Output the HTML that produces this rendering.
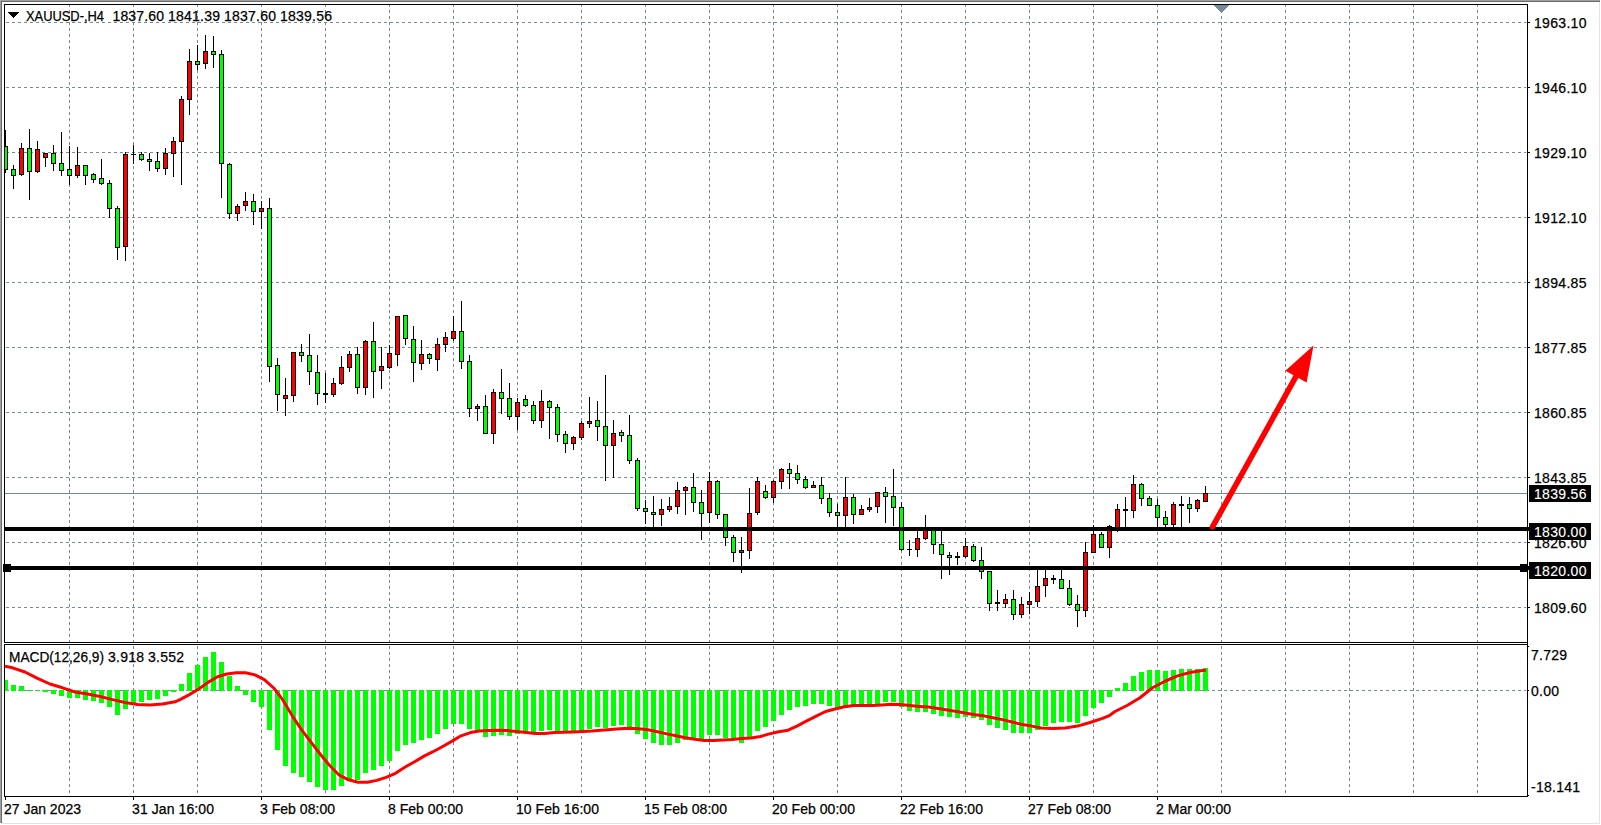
<!DOCTYPE html>
<html lang="en"><head><meta charset="utf-8"><title>XAUUSD-,H4</title>
<style>html,body{margin:0;padding:0;background:#fff;overflow:hidden}svg{display:block}text{font-family:"Liberation Sans",sans-serif;font-size:14px;fill:#000;stroke:#000;stroke-width:.25px}.w{fill:#fff;stroke:#fff;stroke-width:.12px}</style></head><body>
<svg width="1601" height="825" viewBox="0 0 1601 825">
<defs><clipPath id="cm"><rect x="5" y="5" width="1522" height="637"/></clipPath><clipPath id="ci"><rect x="5" y="645" width="1522" height="151"/></clipPath></defs>
<rect x="0" y="0" width="1601" height="825" fill="#fff"/>
<g shape-rendering="crispEdges">
<rect x="0" y="0" width="1600" height="1" fill="#a0a0a0"/>
<rect x="0" y="0" width="1" height="823" fill="#a0a0a0"/>
<rect x="1" y="1" width="1599" height="1" fill="#696969"/>
<rect x="1" y="1" width="1" height="822" fill="#696969"/>
<rect x="1599" y="2" width="1" height="822" fill="#e3e3e3"/>
<rect x="1" y="823" width="1599" height="1" fill="#e3e3e3"/>
<g stroke="#778899" stroke-width="1" stroke-dasharray="3 3" fill="none">
<line x1="69.5" y1="4" x2="69.5" y2="642"/>
<line x1="69.5" y1="646" x2="69.5" y2="796"/>
<line x1="133.5" y1="4" x2="133.5" y2="642"/>
<line x1="133.5" y1="646" x2="133.5" y2="796"/>
<line x1="197.5" y1="4" x2="197.5" y2="642"/>
<line x1="197.5" y1="646" x2="197.5" y2="796"/>
<line x1="261.5" y1="4" x2="261.5" y2="642"/>
<line x1="261.5" y1="646" x2="261.5" y2="796"/>
<line x1="325.5" y1="4" x2="325.5" y2="642"/>
<line x1="325.5" y1="646" x2="325.5" y2="796"/>
<line x1="389.5" y1="4" x2="389.5" y2="642"/>
<line x1="389.5" y1="646" x2="389.5" y2="796"/>
<line x1="453.5" y1="4" x2="453.5" y2="642"/>
<line x1="453.5" y1="646" x2="453.5" y2="796"/>
<line x1="517.5" y1="4" x2="517.5" y2="642"/>
<line x1="517.5" y1="646" x2="517.5" y2="796"/>
<line x1="581.5" y1="4" x2="581.5" y2="642"/>
<line x1="581.5" y1="646" x2="581.5" y2="796"/>
<line x1="645.5" y1="4" x2="645.5" y2="642"/>
<line x1="645.5" y1="646" x2="645.5" y2="796"/>
<line x1="709.5" y1="4" x2="709.5" y2="642"/>
<line x1="709.5" y1="646" x2="709.5" y2="796"/>
<line x1="773.5" y1="4" x2="773.5" y2="642"/>
<line x1="773.5" y1="646" x2="773.5" y2="796"/>
<line x1="837.5" y1="4" x2="837.5" y2="642"/>
<line x1="837.5" y1="646" x2="837.5" y2="796"/>
<line x1="901.5" y1="4" x2="901.5" y2="642"/>
<line x1="901.5" y1="646" x2="901.5" y2="796"/>
<line x1="965.5" y1="4" x2="965.5" y2="642"/>
<line x1="965.5" y1="646" x2="965.5" y2="796"/>
<line x1="1029.5" y1="4" x2="1029.5" y2="642"/>
<line x1="1029.5" y1="646" x2="1029.5" y2="796"/>
<line x1="1093.5" y1="4" x2="1093.5" y2="642"/>
<line x1="1093.5" y1="646" x2="1093.5" y2="796"/>
<line x1="1157.5" y1="4" x2="1157.5" y2="642"/>
<line x1="1157.5" y1="646" x2="1157.5" y2="796"/>
<line x1="1221.5" y1="4" x2="1221.5" y2="642"/>
<line x1="1221.5" y1="646" x2="1221.5" y2="796"/>
<line x1="1285.5" y1="4" x2="1285.5" y2="642"/>
<line x1="1285.5" y1="646" x2="1285.5" y2="796"/>
<line x1="1349.5" y1="4" x2="1349.5" y2="642"/>
<line x1="1349.5" y1="646" x2="1349.5" y2="796"/>
<line x1="1413.5" y1="4" x2="1413.5" y2="642"/>
<line x1="1413.5" y1="646" x2="1413.5" y2="796"/>
<line x1="1477.5" y1="4" x2="1477.5" y2="642"/>
<line x1="1477.5" y1="646" x2="1477.5" y2="796"/>
<line x1="6" y1="22.5" x2="1526" y2="22.5"/>
<line x1="6" y1="87.5" x2="1526" y2="87.5"/>
<line x1="6" y1="152.5" x2="1526" y2="152.5"/>
<line x1="6" y1="217.5" x2="1526" y2="217.5"/>
<line x1="6" y1="282.5" x2="1526" y2="282.5"/>
<line x1="6" y1="347.5" x2="1526" y2="347.5"/>
<line x1="6" y1="412.5" x2="1526" y2="412.5"/>
<line x1="6" y1="477.5" x2="1526" y2="477.5"/>
<line x1="6" y1="542.5" x2="1526" y2="542.5"/>
<line x1="6" y1="607.5" x2="1526" y2="607.5"/>
<line x1="6" y1="690.5" x2="1526" y2="690.5"/>
</g>
<rect x="1214" y="5" width="15" height="1" fill="#778899"/>
<rect x="1215" y="6" width="13" height="1" fill="#778899"/>
<rect x="1216" y="7" width="11" height="1" fill="#778899"/>
<rect x="1217" y="8" width="9" height="1" fill="#778899"/>
<rect x="1218" y="9" width="7" height="1" fill="#778899"/>
<rect x="1219" y="10" width="5" height="1" fill="#778899"/>
<rect x="1220" y="11" width="3" height="1" fill="#778899"/>
<rect x="1221" y="12" width="1" height="1" fill="#778899"/>
<rect x="5" y="493" width="1522" height="1" fill="#778899"/>
<g clip-path="url(#cm)">
<rect x="5" y="130" width="1" height="43" fill="#000"/>
<rect x="3" y="146" width="5" height="24" fill="#000"/>
<rect x="4" y="147" width="3" height="22" fill="#00ff00"/>
<rect x="13" y="165" width="1" height="24" fill="#000"/>
<rect x="11" y="169" width="5" height="7" fill="#000"/>
<rect x="12" y="170" width="3" height="5" fill="#00ff00"/>
<rect x="21" y="143" width="1" height="33" fill="#000"/>
<rect x="19" y="148" width="5" height="27" fill="#000"/>
<rect x="20" y="149" width="3" height="25" fill="#ff0000"/>
<rect x="29" y="129" width="1" height="71" fill="#000"/>
<rect x="27" y="148" width="5" height="24" fill="#000"/>
<rect x="28" y="149" width="3" height="22" fill="#00ff00"/>
<rect x="37" y="141" width="1" height="32" fill="#000"/>
<rect x="35" y="149" width="5" height="23" fill="#000"/>
<rect x="36" y="150" width="3" height="21" fill="#ff0000"/>
<rect x="45" y="153" width="1" height="14" fill="#000"/>
<rect x="43" y="153" width="5" height="5" fill="#000"/>
<rect x="44" y="154" width="3" height="3" fill="#ff0000"/>
<rect x="53" y="145" width="1" height="26" fill="#000"/>
<rect x="51" y="153" width="5" height="11" fill="#000"/>
<rect x="52" y="154" width="3" height="9" fill="#00ff00"/>
<rect x="61" y="132" width="1" height="44" fill="#000"/>
<rect x="59" y="163" width="5" height="8" fill="#000"/>
<rect x="60" y="164" width="3" height="6" fill="#00ff00"/>
<rect x="69" y="146" width="1" height="39" fill="#000"/>
<rect x="67" y="169" width="5" height="7" fill="#000"/>
<rect x="68" y="170" width="3" height="5" fill="#00ff00"/>
<rect x="77" y="147" width="1" height="31" fill="#000"/>
<rect x="75" y="165" width="5" height="11" fill="#000"/>
<rect x="76" y="166" width="3" height="9" fill="#ff0000"/>
<rect x="85" y="165" width="1" height="20" fill="#000"/>
<rect x="83" y="165" width="5" height="11" fill="#000"/>
<rect x="84" y="166" width="3" height="9" fill="#00ff00"/>
<rect x="93" y="173" width="1" height="10" fill="#000"/>
<rect x="91" y="174" width="5" height="6" fill="#000"/>
<rect x="92" y="175" width="3" height="4" fill="#00ff00"/>
<rect x="101" y="159" width="1" height="26" fill="#000"/>
<rect x="99" y="178" width="5" height="6" fill="#000"/>
<rect x="100" y="179" width="3" height="4" fill="#00ff00"/>
<rect x="109" y="180" width="1" height="38" fill="#000"/>
<rect x="107" y="183" width="5" height="26" fill="#000"/>
<rect x="108" y="184" width="3" height="24" fill="#00ff00"/>
<rect x="117" y="206" width="1" height="54" fill="#000"/>
<rect x="115" y="208" width="5" height="40" fill="#000"/>
<rect x="116" y="209" width="3" height="38" fill="#00ff00"/>
<rect x="125" y="152" width="1" height="109" fill="#000"/>
<rect x="123" y="154" width="5" height="93" fill="#000"/>
<rect x="124" y="155" width="3" height="91" fill="#ff0000"/>
<rect x="133" y="145" width="1" height="19" fill="#000"/>
<rect x="131" y="154" width="5" height="1" fill="#000"/>
<rect x="141" y="152" width="1" height="9" fill="#000"/>
<rect x="139" y="154" width="5" height="6" fill="#000"/>
<rect x="140" y="155" width="3" height="4" fill="#00ff00"/>
<rect x="149" y="153" width="1" height="18" fill="#000"/>
<rect x="147" y="159" width="5" height="3" fill="#000"/>
<rect x="148" y="160" width="3" height="1" fill="#00ff00"/>
<rect x="157" y="152" width="1" height="20" fill="#000"/>
<rect x="155" y="161" width="5" height="8" fill="#000"/>
<rect x="156" y="162" width="3" height="6" fill="#00ff00"/>
<rect x="165" y="148" width="1" height="27" fill="#000"/>
<rect x="163" y="153" width="5" height="16" fill="#000"/>
<rect x="164" y="154" width="3" height="14" fill="#ff0000"/>
<rect x="173" y="137" width="1" height="40" fill="#000"/>
<rect x="171" y="141" width="5" height="13" fill="#000"/>
<rect x="172" y="142" width="3" height="11" fill="#ff0000"/>
<rect x="181" y="96" width="1" height="89" fill="#000"/>
<rect x="179" y="99" width="5" height="43" fill="#000"/>
<rect x="180" y="100" width="3" height="41" fill="#ff0000"/>
<rect x="189" y="49" width="1" height="66" fill="#000"/>
<rect x="187" y="61" width="5" height="39" fill="#000"/>
<rect x="188" y="62" width="3" height="37" fill="#ff0000"/>
<rect x="197" y="45" width="1" height="25" fill="#000"/>
<rect x="195" y="61" width="5" height="4" fill="#000"/>
<rect x="196" y="62" width="3" height="2" fill="#00ff00"/>
<rect x="205" y="35" width="1" height="34" fill="#000"/>
<rect x="203" y="51" width="5" height="13" fill="#000"/>
<rect x="204" y="52" width="3" height="11" fill="#ff0000"/>
<rect x="213" y="36" width="1" height="32" fill="#000"/>
<rect x="211" y="51" width="5" height="4" fill="#000"/>
<rect x="212" y="52" width="3" height="2" fill="#00ff00"/>
<rect x="221" y="50" width="1" height="148" fill="#000"/>
<rect x="219" y="54" width="5" height="110" fill="#000"/>
<rect x="220" y="55" width="3" height="108" fill="#00ff00"/>
<rect x="229" y="163" width="1" height="56" fill="#000"/>
<rect x="227" y="164" width="5" height="50" fill="#000"/>
<rect x="228" y="165" width="3" height="48" fill="#00ff00"/>
<rect x="237" y="204" width="1" height="17" fill="#000"/>
<rect x="235" y="206" width="5" height="8" fill="#000"/>
<rect x="236" y="207" width="3" height="6" fill="#ff0000"/>
<rect x="245" y="192" width="1" height="19" fill="#000"/>
<rect x="243" y="201" width="5" height="5" fill="#000"/>
<rect x="244" y="202" width="3" height="3" fill="#ff0000"/>
<rect x="253" y="194" width="1" height="31" fill="#000"/>
<rect x="251" y="201" width="5" height="11" fill="#000"/>
<rect x="252" y="202" width="3" height="9" fill="#00ff00"/>
<rect x="261" y="201" width="1" height="28" fill="#000"/>
<rect x="259" y="208" width="5" height="4" fill="#000"/>
<rect x="260" y="209" width="3" height="2" fill="#ff0000"/>
<rect x="269" y="198" width="1" height="184" fill="#000"/>
<rect x="267" y="208" width="5" height="159" fill="#000"/>
<rect x="268" y="209" width="3" height="157" fill="#00ff00"/>
<rect x="277" y="358" width="1" height="53" fill="#000"/>
<rect x="275" y="365" width="5" height="30" fill="#000"/>
<rect x="276" y="366" width="3" height="28" fill="#00ff00"/>
<rect x="285" y="378" width="1" height="38" fill="#000"/>
<rect x="283" y="395" width="5" height="4" fill="#000"/>
<rect x="284" y="396" width="3" height="2" fill="#ff0000"/>
<rect x="293" y="352" width="1" height="50" fill="#000"/>
<rect x="291" y="352" width="5" height="44" fill="#000"/>
<rect x="292" y="353" width="3" height="42" fill="#ff0000"/>
<rect x="301" y="344" width="1" height="18" fill="#000"/>
<rect x="299" y="352" width="5" height="4" fill="#000"/>
<rect x="300" y="353" width="3" height="2" fill="#00ff00"/>
<rect x="309" y="334" width="1" height="51" fill="#000"/>
<rect x="307" y="355" width="5" height="17" fill="#000"/>
<rect x="308" y="356" width="3" height="15" fill="#00ff00"/>
<rect x="317" y="355" width="1" height="50" fill="#000"/>
<rect x="315" y="372" width="5" height="22" fill="#000"/>
<rect x="316" y="373" width="3" height="20" fill="#00ff00"/>
<rect x="325" y="373" width="1" height="30" fill="#000"/>
<rect x="323" y="393" width="5" height="2" fill="#000"/>
<rect x="333" y="378" width="1" height="19" fill="#000"/>
<rect x="331" y="383" width="5" height="12" fill="#000"/>
<rect x="332" y="384" width="3" height="10" fill="#ff0000"/>
<rect x="341" y="356" width="1" height="29" fill="#000"/>
<rect x="339" y="367" width="5" height="17" fill="#000"/>
<rect x="340" y="368" width="3" height="15" fill="#ff0000"/>
<rect x="349" y="351" width="1" height="21" fill="#000"/>
<rect x="347" y="354" width="5" height="14" fill="#000"/>
<rect x="348" y="355" width="3" height="12" fill="#ff0000"/>
<rect x="357" y="347" width="1" height="47" fill="#000"/>
<rect x="355" y="354" width="5" height="34" fill="#000"/>
<rect x="356" y="355" width="3" height="32" fill="#00ff00"/>
<rect x="365" y="340" width="1" height="55" fill="#000"/>
<rect x="363" y="341" width="5" height="47" fill="#000"/>
<rect x="364" y="342" width="3" height="45" fill="#ff0000"/>
<rect x="373" y="322" width="1" height="76" fill="#000"/>
<rect x="371" y="341" width="5" height="31" fill="#000"/>
<rect x="372" y="342" width="3" height="29" fill="#00ff00"/>
<rect x="381" y="347" width="1" height="42" fill="#000"/>
<rect x="379" y="366" width="5" height="5" fill="#000"/>
<rect x="380" y="367" width="3" height="3" fill="#ff0000"/>
<rect x="389" y="345" width="1" height="24" fill="#000"/>
<rect x="387" y="353" width="5" height="15" fill="#000"/>
<rect x="388" y="354" width="3" height="13" fill="#ff0000"/>
<rect x="397" y="316" width="1" height="50" fill="#000"/>
<rect x="395" y="316" width="5" height="39" fill="#000"/>
<rect x="396" y="317" width="3" height="37" fill="#ff0000"/>
<rect x="405" y="315" width="1" height="30" fill="#000"/>
<rect x="403" y="315" width="5" height="24" fill="#000"/>
<rect x="404" y="316" width="3" height="22" fill="#00ff00"/>
<rect x="413" y="326" width="1" height="56" fill="#000"/>
<rect x="411" y="339" width="5" height="24" fill="#000"/>
<rect x="412" y="340" width="3" height="22" fill="#00ff00"/>
<rect x="421" y="340" width="1" height="30" fill="#000"/>
<rect x="419" y="354" width="5" height="10" fill="#000"/>
<rect x="420" y="355" width="3" height="8" fill="#ff0000"/>
<rect x="429" y="353" width="1" height="11" fill="#000"/>
<rect x="427" y="354" width="5" height="5" fill="#000"/>
<rect x="428" y="355" width="3" height="3" fill="#00ff00"/>
<rect x="437" y="338" width="1" height="33" fill="#000"/>
<rect x="435" y="344" width="5" height="16" fill="#000"/>
<rect x="436" y="345" width="3" height="14" fill="#ff0000"/>
<rect x="445" y="332" width="1" height="20" fill="#000"/>
<rect x="443" y="337" width="5" height="8" fill="#000"/>
<rect x="444" y="338" width="3" height="6" fill="#ff0000"/>
<rect x="453" y="316" width="1" height="25" fill="#000"/>
<rect x="451" y="331" width="5" height="8" fill="#000"/>
<rect x="452" y="332" width="3" height="6" fill="#ff0000"/>
<rect x="461" y="301" width="1" height="68" fill="#000"/>
<rect x="459" y="331" width="5" height="31" fill="#000"/>
<rect x="460" y="332" width="3" height="29" fill="#00ff00"/>
<rect x="469" y="355" width="1" height="62" fill="#000"/>
<rect x="467" y="361" width="5" height="48" fill="#000"/>
<rect x="468" y="362" width="3" height="46" fill="#00ff00"/>
<rect x="477" y="404" width="1" height="17" fill="#000"/>
<rect x="475" y="406" width="5" height="3" fill="#000"/>
<rect x="476" y="407" width="3" height="1" fill="#ff0000"/>
<rect x="485" y="395" width="1" height="39" fill="#000"/>
<rect x="483" y="406" width="5" height="28" fill="#000"/>
<rect x="484" y="407" width="3" height="26" fill="#00ff00"/>
<rect x="493" y="389" width="1" height="55" fill="#000"/>
<rect x="491" y="392" width="5" height="42" fill="#000"/>
<rect x="492" y="393" width="3" height="40" fill="#ff0000"/>
<rect x="501" y="369" width="1" height="45" fill="#000"/>
<rect x="499" y="392" width="5" height="7" fill="#000"/>
<rect x="500" y="393" width="3" height="5" fill="#00ff00"/>
<rect x="509" y="383" width="1" height="37" fill="#000"/>
<rect x="507" y="398" width="5" height="19" fill="#000"/>
<rect x="508" y="399" width="3" height="17" fill="#00ff00"/>
<rect x="517" y="398" width="1" height="32" fill="#000"/>
<rect x="515" y="402" width="5" height="15" fill="#000"/>
<rect x="516" y="403" width="3" height="13" fill="#ff0000"/>
<rect x="525" y="395" width="1" height="12" fill="#000"/>
<rect x="523" y="399" width="5" height="7" fill="#000"/>
<rect x="524" y="400" width="3" height="5" fill="#00ff00"/>
<rect x="533" y="401" width="1" height="23" fill="#000"/>
<rect x="531" y="405" width="5" height="16" fill="#000"/>
<rect x="532" y="406" width="3" height="14" fill="#00ff00"/>
<rect x="541" y="390" width="1" height="38" fill="#000"/>
<rect x="539" y="401" width="5" height="20" fill="#000"/>
<rect x="540" y="402" width="3" height="18" fill="#ff0000"/>
<rect x="549" y="400" width="1" height="39" fill="#000"/>
<rect x="547" y="401" width="5" height="7" fill="#000"/>
<rect x="548" y="402" width="3" height="5" fill="#00ff00"/>
<rect x="557" y="404" width="1" height="38" fill="#000"/>
<rect x="555" y="407" width="5" height="28" fill="#000"/>
<rect x="556" y="408" width="3" height="26" fill="#00ff00"/>
<rect x="565" y="431" width="1" height="22" fill="#000"/>
<rect x="563" y="434" width="5" height="10" fill="#000"/>
<rect x="564" y="435" width="3" height="8" fill="#00ff00"/>
<rect x="573" y="436" width="1" height="14" fill="#000"/>
<rect x="571" y="437" width="5" height="7" fill="#000"/>
<rect x="572" y="438" width="3" height="5" fill="#ff0000"/>
<rect x="581" y="421" width="1" height="19" fill="#000"/>
<rect x="579" y="423" width="5" height="15" fill="#000"/>
<rect x="580" y="424" width="3" height="13" fill="#ff0000"/>
<rect x="589" y="397" width="1" height="31" fill="#000"/>
<rect x="587" y="421" width="5" height="3" fill="#000"/>
<rect x="588" y="422" width="3" height="1" fill="#ff0000"/>
<rect x="597" y="401" width="1" height="40" fill="#000"/>
<rect x="595" y="420" width="5" height="7" fill="#000"/>
<rect x="596" y="421" width="3" height="5" fill="#00ff00"/>
<rect x="605" y="375" width="1" height="106" fill="#000"/>
<rect x="603" y="426" width="5" height="20" fill="#000"/>
<rect x="604" y="427" width="3" height="18" fill="#00ff00"/>
<rect x="613" y="420" width="1" height="58" fill="#000"/>
<rect x="611" y="433" width="5" height="13" fill="#000"/>
<rect x="612" y="434" width="3" height="11" fill="#ff0000"/>
<rect x="621" y="430" width="1" height="12" fill="#000"/>
<rect x="619" y="432" width="5" height="4" fill="#000"/>
<rect x="620" y="433" width="3" height="2" fill="#00ff00"/>
<rect x="629" y="415" width="1" height="49" fill="#000"/>
<rect x="627" y="435" width="5" height="26" fill="#000"/>
<rect x="628" y="436" width="3" height="24" fill="#00ff00"/>
<rect x="637" y="458" width="1" height="53" fill="#000"/>
<rect x="635" y="460" width="5" height="49" fill="#000"/>
<rect x="636" y="461" width="3" height="47" fill="#00ff00"/>
<rect x="645" y="500" width="1" height="24" fill="#000"/>
<rect x="643" y="508" width="5" height="4" fill="#000"/>
<rect x="644" y="509" width="3" height="2" fill="#00ff00"/>
<rect x="653" y="496" width="1" height="32" fill="#000"/>
<rect x="651" y="512" width="5" height="3" fill="#000"/>
<rect x="652" y="513" width="3" height="1" fill="#00ff00"/>
<rect x="661" y="499" width="1" height="27" fill="#000"/>
<rect x="659" y="509" width="5" height="6" fill="#000"/>
<rect x="660" y="510" width="3" height="4" fill="#ff0000"/>
<rect x="669" y="497" width="1" height="15" fill="#000"/>
<rect x="667" y="506" width="5" height="4" fill="#000"/>
<rect x="668" y="507" width="3" height="2" fill="#ff0000"/>
<rect x="677" y="482" width="1" height="32" fill="#000"/>
<rect x="675" y="490" width="5" height="17" fill="#000"/>
<rect x="676" y="491" width="3" height="15" fill="#ff0000"/>
<rect x="685" y="486" width="1" height="29" fill="#000"/>
<rect x="683" y="487" width="5" height="4" fill="#000"/>
<rect x="684" y="488" width="3" height="2" fill="#ff0000"/>
<rect x="693" y="473" width="1" height="39" fill="#000"/>
<rect x="691" y="487" width="5" height="16" fill="#000"/>
<rect x="692" y="488" width="3" height="14" fill="#00ff00"/>
<rect x="701" y="490" width="1" height="50" fill="#000"/>
<rect x="699" y="502" width="5" height="12" fill="#000"/>
<rect x="700" y="503" width="3" height="10" fill="#00ff00"/>
<rect x="709" y="472" width="1" height="51" fill="#000"/>
<rect x="707" y="481" width="5" height="32" fill="#000"/>
<rect x="708" y="482" width="3" height="30" fill="#ff0000"/>
<rect x="717" y="480" width="1" height="39" fill="#000"/>
<rect x="715" y="481" width="5" height="34" fill="#000"/>
<rect x="716" y="482" width="3" height="32" fill="#00ff00"/>
<rect x="725" y="514" width="1" height="32" fill="#000"/>
<rect x="723" y="514" width="5" height="24" fill="#000"/>
<rect x="724" y="515" width="3" height="22" fill="#00ff00"/>
<rect x="733" y="535" width="1" height="27" fill="#000"/>
<rect x="731" y="537" width="5" height="16" fill="#000"/>
<rect x="732" y="538" width="3" height="14" fill="#00ff00"/>
<rect x="741" y="537" width="1" height="36" fill="#000"/>
<rect x="739" y="550" width="5" height="3" fill="#000"/>
<rect x="740" y="551" width="3" height="1" fill="#ff0000"/>
<rect x="749" y="488" width="1" height="71" fill="#000"/>
<rect x="747" y="513" width="5" height="38" fill="#000"/>
<rect x="748" y="514" width="3" height="36" fill="#ff0000"/>
<rect x="757" y="477" width="1" height="38" fill="#000"/>
<rect x="755" y="481" width="5" height="32" fill="#000"/>
<rect x="756" y="482" width="3" height="30" fill="#ff0000"/>
<rect x="765" y="485" width="1" height="14" fill="#000"/>
<rect x="763" y="491" width="5" height="7" fill="#000"/>
<rect x="764" y="492" width="3" height="5" fill="#00ff00"/>
<rect x="773" y="480" width="1" height="23" fill="#000"/>
<rect x="771" y="481" width="5" height="17" fill="#000"/>
<rect x="772" y="482" width="3" height="15" fill="#ff0000"/>
<rect x="781" y="468" width="1" height="21" fill="#000"/>
<rect x="779" y="469" width="5" height="13" fill="#000"/>
<rect x="780" y="470" width="3" height="11" fill="#ff0000"/>
<rect x="789" y="463" width="1" height="26" fill="#000"/>
<rect x="787" y="469" width="5" height="5" fill="#000"/>
<rect x="788" y="470" width="3" height="3" fill="#00ff00"/>
<rect x="797" y="465" width="1" height="19" fill="#000"/>
<rect x="795" y="473" width="5" height="7" fill="#000"/>
<rect x="796" y="474" width="3" height="5" fill="#00ff00"/>
<rect x="805" y="476" width="1" height="13" fill="#000"/>
<rect x="803" y="479" width="5" height="9" fill="#000"/>
<rect x="804" y="480" width="3" height="7" fill="#00ff00"/>
<rect x="813" y="481" width="1" height="7" fill="#000"/>
<rect x="811" y="485" width="5" height="3" fill="#000"/>
<rect x="812" y="486" width="3" height="1" fill="#ff0000"/>
<rect x="821" y="477" width="1" height="27" fill="#000"/>
<rect x="819" y="485" width="5" height="14" fill="#000"/>
<rect x="820" y="486" width="3" height="12" fill="#00ff00"/>
<rect x="829" y="493" width="1" height="24" fill="#000"/>
<rect x="827" y="498" width="5" height="15" fill="#000"/>
<rect x="828" y="499" width="3" height="13" fill="#00ff00"/>
<rect x="837" y="504" width="1" height="24" fill="#000"/>
<rect x="835" y="512" width="5" height="4" fill="#000"/>
<rect x="836" y="513" width="3" height="2" fill="#00ff00"/>
<rect x="845" y="477" width="1" height="51" fill="#000"/>
<rect x="843" y="497" width="5" height="19" fill="#000"/>
<rect x="844" y="498" width="3" height="17" fill="#ff0000"/>
<rect x="853" y="494" width="1" height="30" fill="#000"/>
<rect x="851" y="497" width="5" height="18" fill="#000"/>
<rect x="852" y="498" width="3" height="16" fill="#00ff00"/>
<rect x="861" y="505" width="1" height="10" fill="#000"/>
<rect x="859" y="509" width="5" height="6" fill="#000"/>
<rect x="860" y="510" width="3" height="4" fill="#ff0000"/>
<rect x="869" y="498" width="1" height="14" fill="#000"/>
<rect x="867" y="507" width="5" height="3" fill="#000"/>
<rect x="868" y="508" width="3" height="1" fill="#ff0000"/>
<rect x="877" y="492" width="1" height="21" fill="#000"/>
<rect x="875" y="492" width="5" height="15" fill="#000"/>
<rect x="876" y="493" width="3" height="13" fill="#ff0000"/>
<rect x="885" y="487" width="1" height="36" fill="#000"/>
<rect x="883" y="492" width="5" height="5" fill="#000"/>
<rect x="884" y="493" width="3" height="3" fill="#00ff00"/>
<rect x="893" y="469" width="1" height="57" fill="#000"/>
<rect x="891" y="496" width="5" height="12" fill="#000"/>
<rect x="892" y="497" width="3" height="10" fill="#00ff00"/>
<rect x="901" y="502" width="1" height="49" fill="#000"/>
<rect x="899" y="507" width="5" height="43" fill="#000"/>
<rect x="900" y="508" width="3" height="41" fill="#00ff00"/>
<rect x="909" y="540" width="1" height="16" fill="#000"/>
<rect x="907" y="549" width="5" height="1" fill="#000"/>
<rect x="917" y="531" width="1" height="26" fill="#000"/>
<rect x="915" y="538" width="5" height="12" fill="#000"/>
<rect x="916" y="539" width="3" height="10" fill="#ff0000"/>
<rect x="925" y="515" width="1" height="25" fill="#000"/>
<rect x="923" y="528" width="5" height="11" fill="#000"/>
<rect x="924" y="529" width="3" height="9" fill="#ff0000"/>
<rect x="933" y="529" width="1" height="25" fill="#000"/>
<rect x="931" y="529" width="5" height="16" fill="#000"/>
<rect x="932" y="530" width="3" height="14" fill="#00ff00"/>
<rect x="941" y="531" width="1" height="48" fill="#000"/>
<rect x="939" y="544" width="5" height="11" fill="#000"/>
<rect x="940" y="545" width="3" height="9" fill="#00ff00"/>
<rect x="949" y="552" width="1" height="23" fill="#000"/>
<rect x="947" y="555" width="5" height="3" fill="#000"/>
<rect x="948" y="556" width="3" height="1" fill="#00ff00"/>
<rect x="957" y="552" width="1" height="13" fill="#000"/>
<rect x="955" y="556" width="5" height="2" fill="#000"/>
<rect x="965" y="538" width="1" height="20" fill="#000"/>
<rect x="963" y="546" width="5" height="11" fill="#000"/>
<rect x="964" y="547" width="3" height="9" fill="#ff0000"/>
<rect x="973" y="544" width="1" height="18" fill="#000"/>
<rect x="971" y="546" width="5" height="15" fill="#000"/>
<rect x="972" y="547" width="3" height="13" fill="#00ff00"/>
<rect x="981" y="547" width="1" height="32" fill="#000"/>
<rect x="979" y="560" width="5" height="12" fill="#000"/>
<rect x="980" y="561" width="3" height="10" fill="#00ff00"/>
<rect x="989" y="571" width="1" height="40" fill="#000"/>
<rect x="987" y="571" width="5" height="33" fill="#000"/>
<rect x="988" y="572" width="3" height="31" fill="#00ff00"/>
<rect x="997" y="590" width="1" height="21" fill="#000"/>
<rect x="995" y="602" width="5" height="2" fill="#000"/>
<rect x="1005" y="594" width="1" height="14" fill="#000"/>
<rect x="1003" y="599" width="5" height="5" fill="#000"/>
<rect x="1004" y="600" width="3" height="3" fill="#ff0000"/>
<rect x="1013" y="590" width="1" height="30" fill="#000"/>
<rect x="1011" y="599" width="5" height="16" fill="#000"/>
<rect x="1012" y="600" width="3" height="14" fill="#00ff00"/>
<rect x="1021" y="597" width="1" height="21" fill="#000"/>
<rect x="1019" y="604" width="5" height="11" fill="#000"/>
<rect x="1020" y="605" width="3" height="9" fill="#ff0000"/>
<rect x="1029" y="592" width="1" height="22" fill="#000"/>
<rect x="1027" y="601" width="5" height="4" fill="#000"/>
<rect x="1028" y="602" width="3" height="2" fill="#ff0000"/>
<rect x="1037" y="570" width="1" height="37" fill="#000"/>
<rect x="1035" y="586" width="5" height="16" fill="#000"/>
<rect x="1036" y="587" width="3" height="14" fill="#ff0000"/>
<rect x="1045" y="570" width="1" height="27" fill="#000"/>
<rect x="1043" y="578" width="5" height="8" fill="#000"/>
<rect x="1044" y="579" width="3" height="6" fill="#ff0000"/>
<rect x="1053" y="575" width="1" height="9" fill="#000"/>
<rect x="1051" y="578" width="5" height="2" fill="#000"/>
<rect x="1061" y="570" width="1" height="19" fill="#000"/>
<rect x="1059" y="579" width="5" height="10" fill="#000"/>
<rect x="1060" y="580" width="3" height="8" fill="#00ff00"/>
<rect x="1069" y="580" width="1" height="26" fill="#000"/>
<rect x="1067" y="588" width="5" height="17" fill="#000"/>
<rect x="1068" y="589" width="3" height="15" fill="#00ff00"/>
<rect x="1077" y="595" width="1" height="32" fill="#000"/>
<rect x="1075" y="604" width="5" height="7" fill="#000"/>
<rect x="1076" y="605" width="3" height="5" fill="#00ff00"/>
<rect x="1085" y="542" width="1" height="75" fill="#000"/>
<rect x="1083" y="552" width="5" height="59" fill="#000"/>
<rect x="1084" y="553" width="3" height="57" fill="#ff0000"/>
<rect x="1093" y="525" width="1" height="28" fill="#000"/>
<rect x="1091" y="534" width="5" height="19" fill="#000"/>
<rect x="1092" y="535" width="3" height="17" fill="#ff0000"/>
<rect x="1101" y="532" width="1" height="16" fill="#000"/>
<rect x="1099" y="534" width="5" height="14" fill="#000"/>
<rect x="1100" y="535" width="3" height="12" fill="#00ff00"/>
<rect x="1109" y="525" width="1" height="33" fill="#000"/>
<rect x="1107" y="526" width="5" height="22" fill="#000"/>
<rect x="1108" y="527" width="3" height="20" fill="#ff0000"/>
<rect x="1117" y="504" width="1" height="28" fill="#000"/>
<rect x="1115" y="509" width="5" height="20" fill="#000"/>
<rect x="1116" y="510" width="3" height="18" fill="#ff0000"/>
<rect x="1125" y="497" width="1" height="31" fill="#000"/>
<rect x="1123" y="509" width="5" height="2" fill="#000"/>
<rect x="1133" y="475" width="1" height="43" fill="#000"/>
<rect x="1131" y="484" width="5" height="27" fill="#000"/>
<rect x="1132" y="485" width="3" height="25" fill="#ff0000"/>
<rect x="1141" y="483" width="1" height="23" fill="#000"/>
<rect x="1139" y="484" width="5" height="15" fill="#000"/>
<rect x="1140" y="485" width="3" height="13" fill="#00ff00"/>
<rect x="1149" y="496" width="1" height="10" fill="#000"/>
<rect x="1147" y="498" width="5" height="8" fill="#000"/>
<rect x="1148" y="499" width="3" height="6" fill="#00ff00"/>
<rect x="1157" y="499" width="1" height="29" fill="#000"/>
<rect x="1155" y="505" width="5" height="13" fill="#000"/>
<rect x="1156" y="506" width="3" height="11" fill="#00ff00"/>
<rect x="1165" y="511" width="1" height="17" fill="#000"/>
<rect x="1163" y="517" width="5" height="8" fill="#000"/>
<rect x="1164" y="518" width="3" height="6" fill="#00ff00"/>
<rect x="1173" y="502" width="1" height="26" fill="#000"/>
<rect x="1171" y="504" width="5" height="21" fill="#000"/>
<rect x="1172" y="505" width="3" height="19" fill="#ff0000"/>
<rect x="1181" y="496" width="1" height="32" fill="#000"/>
<rect x="1179" y="504" width="5" height="2" fill="#000"/>
<rect x="1189" y="497" width="1" height="26" fill="#000"/>
<rect x="1187" y="504" width="5" height="5" fill="#000"/>
<rect x="1188" y="505" width="3" height="3" fill="#00ff00"/>
<rect x="1197" y="499" width="1" height="13" fill="#000"/>
<rect x="1195" y="500" width="5" height="9" fill="#000"/>
<rect x="1196" y="501" width="3" height="7" fill="#ff0000"/>
<rect x="1205" y="486" width="1" height="16" fill="#000"/>
<rect x="1203" y="493" width="5" height="9" fill="#000"/>
<rect x="1204" y="494" width="3" height="7" fill="#ff0000"/>
</g>
<g clip-path="url(#ci)" fill="#00ff00">
<rect x="3" y="680" width="5" height="11"/>
<rect x="11" y="685" width="5" height="6"/>
<rect x="19" y="686" width="5" height="5"/>
<rect x="27" y="690" width="5" height="1"/>
<rect x="35" y="690" width="5" height="1"/>
<rect x="43" y="690" width="5" height="2"/>
<rect x="51" y="690" width="5" height="4"/>
<rect x="59" y="690" width="5" height="6"/>
<rect x="67" y="690" width="5" height="8"/>
<rect x="75" y="690" width="5" height="8"/>
<rect x="83" y="690" width="5" height="10"/>
<rect x="91" y="690" width="5" height="11"/>
<rect x="99" y="690" width="5" height="13"/>
<rect x="107" y="690" width="5" height="17"/>
<rect x="115" y="690" width="5" height="25"/>
<rect x="123" y="690" width="5" height="19"/>
<rect x="131" y="690" width="5" height="13"/>
<rect x="139" y="690" width="5" height="12"/>
<rect x="147" y="690" width="5" height="10"/>
<rect x="155" y="690" width="5" height="9"/>
<rect x="163" y="690" width="5" height="6"/>
<rect x="171" y="690" width="5" height="2"/>
<rect x="179" y="684" width="5" height="7"/>
<rect x="187" y="673" width="5" height="18"/>
<rect x="195" y="665" width="5" height="26"/>
<rect x="203" y="657" width="5" height="34"/>
<rect x="211" y="652" width="5" height="39"/>
<rect x="219" y="662" width="5" height="29"/>
<rect x="227" y="676" width="5" height="15"/>
<rect x="235" y="686" width="5" height="5"/>
<rect x="243" y="690" width="5" height="5"/>
<rect x="251" y="690" width="5" height="12"/>
<rect x="259" y="690" width="5" height="17"/>
<rect x="267" y="690" width="5" height="40"/>
<rect x="275" y="690" width="5" height="60"/>
<rect x="283" y="690" width="5" height="76"/>
<rect x="291" y="690" width="5" height="83"/>
<rect x="299" y="690" width="5" height="87"/>
<rect x="307" y="690" width="5" height="92"/>
<rect x="315" y="690" width="5" height="97"/>
<rect x="323" y="690" width="5" height="100"/>
<rect x="331" y="690" width="5" height="100"/>
<rect x="339" y="690" width="5" height="96"/>
<rect x="347" y="690" width="5" height="91"/>
<rect x="355" y="690" width="5" height="90"/>
<rect x="363" y="690" width="5" height="83"/>
<rect x="371" y="690" width="5" height="80"/>
<rect x="379" y="690" width="5" height="76"/>
<rect x="387" y="690" width="5" height="71"/>
<rect x="395" y="690" width="5" height="61"/>
<rect x="403" y="690" width="5" height="55"/>
<rect x="411" y="690" width="5" height="53"/>
<rect x="419" y="690" width="5" height="50"/>
<rect x="427" y="690" width="5" height="48"/>
<rect x="435" y="690" width="5" height="44"/>
<rect x="443" y="690" width="5" height="39"/>
<rect x="451" y="690" width="5" height="34"/>
<rect x="459" y="690" width="5" height="34"/>
<rect x="467" y="690" width="5" height="39"/>
<rect x="475" y="690" width="5" height="42"/>
<rect x="483" y="690" width="5" height="47"/>
<rect x="491" y="690" width="5" height="46"/>
<rect x="499" y="690" width="5" height="45"/>
<rect x="507" y="690" width="5" height="46"/>
<rect x="515" y="690" width="5" height="44"/>
<rect x="523" y="690" width="5" height="43"/>
<rect x="531" y="690" width="5" height="43"/>
<rect x="539" y="690" width="5" height="41"/>
<rect x="547" y="690" width="5" height="40"/>
<rect x="555" y="690" width="5" height="42"/>
<rect x="563" y="690" width="5" height="42"/>
<rect x="571" y="690" width="5" height="42"/>
<rect x="579" y="690" width="5" height="41"/>
<rect x="587" y="690" width="5" height="39"/>
<rect x="595" y="690" width="5" height="37"/>
<rect x="603" y="690" width="5" height="38"/>
<rect x="611" y="690" width="5" height="36"/>
<rect x="619" y="690" width="5" height="35"/>
<rect x="627" y="690" width="5" height="37"/>
<rect x="635" y="690" width="5" height="44"/>
<rect x="643" y="690" width="5" height="49"/>
<rect x="651" y="690" width="5" height="53"/>
<rect x="659" y="690" width="5" height="55"/>
<rect x="667" y="690" width="5" height="55"/>
<rect x="675" y="690" width="5" height="53"/>
<rect x="683" y="690" width="5" height="50"/>
<rect x="691" y="690" width="5" height="48"/>
<rect x="699" y="690" width="5" height="49"/>
<rect x="707" y="690" width="5" height="45"/>
<rect x="715" y="690" width="5" height="45"/>
<rect x="723" y="690" width="5" height="48"/>
<rect x="731" y="690" width="5" height="49"/>
<rect x="739" y="690" width="5" height="53"/>
<rect x="747" y="690" width="5" height="48"/>
<rect x="755" y="690" width="5" height="41"/>
<rect x="763" y="690" width="5" height="37"/>
<rect x="771" y="690" width="5" height="31"/>
<rect x="779" y="690" width="5" height="25"/>
<rect x="787" y="690" width="5" height="20"/>
<rect x="795" y="690" width="5" height="17"/>
<rect x="803" y="690" width="5" height="16"/>
<rect x="811" y="690" width="5" height="14"/>
<rect x="819" y="690" width="5" height="14"/>
<rect x="827" y="690" width="5" height="16"/>
<rect x="835" y="690" width="5" height="18"/>
<rect x="843" y="690" width="5" height="17"/>
<rect x="851" y="690" width="5" height="16"/>
<rect x="859" y="690" width="5" height="16"/>
<rect x="867" y="690" width="5" height="16"/>
<rect x="875" y="690" width="5" height="15"/>
<rect x="883" y="690" width="5" height="12"/>
<rect x="891" y="690" width="5" height="12"/>
<rect x="899" y="690" width="5" height="17"/>
<rect x="907" y="690" width="5" height="21"/>
<rect x="915" y="690" width="5" height="22"/>
<rect x="923" y="690" width="5" height="22"/>
<rect x="931" y="690" width="5" height="24"/>
<rect x="939" y="690" width="5" height="26"/>
<rect x="947" y="690" width="5" height="27"/>
<rect x="955" y="690" width="5" height="28"/>
<rect x="963" y="690" width="5" height="27"/>
<rect x="971" y="690" width="5" height="28"/>
<rect x="979" y="690" width="5" height="30"/>
<rect x="987" y="690" width="5" height="35"/>
<rect x="995" y="690" width="5" height="38"/>
<rect x="1003" y="690" width="5" height="40"/>
<rect x="1011" y="690" width="5" height="43"/>
<rect x="1019" y="690" width="5" height="43"/>
<rect x="1027" y="690" width="5" height="43"/>
<rect x="1035" y="690" width="5" height="40"/>
<rect x="1043" y="690" width="5" height="36"/>
<rect x="1051" y="690" width="5" height="33"/>
<rect x="1059" y="690" width="5" height="32"/>
<rect x="1067" y="690" width="5" height="32"/>
<rect x="1075" y="690" width="5" height="33"/>
<rect x="1083" y="690" width="5" height="26"/>
<rect x="1091" y="690" width="5" height="18"/>
<rect x="1099" y="690" width="5" height="13"/>
<rect x="1107" y="690" width="5" height="7"/>
<rect x="1115" y="688" width="5" height="3"/>
<rect x="1123" y="683" width="5" height="8"/>
<rect x="1131" y="676" width="5" height="15"/>
<rect x="1139" y="672" width="5" height="19"/>
<rect x="1147" y="670" width="5" height="21"/>
<rect x="1155" y="670" width="5" height="21"/>
<rect x="1163" y="671" width="5" height="20"/>
<rect x="1171" y="670" width="5" height="21"/>
<rect x="1179" y="669" width="5" height="22"/>
<rect x="1187" y="669" width="5" height="22"/>
<rect x="1195" y="669" width="5" height="22"/>
<rect x="1203" y="668" width="5" height="23"/>
</g>
<rect x="5" y="527" width="1524" height="4" fill="#000"/>
<rect x="5" y="566" width="1524" height="4" fill="#000"/>
<rect x="3" y="564" width="8" height="8" fill="#000"/>
<rect x="1520" y="564" width="8" height="8" fill="#000"/>
<rect x="4" y="4" width="1524" height="1" fill="#000"/>
<rect x="4" y="4" width="1" height="639" fill="#000"/>
<rect x="4" y="642" width="1524" height="1" fill="#000"/>
<rect x="4" y="644" width="1524" height="1" fill="#000"/>
<rect x="4" y="644" width="1" height="153" fill="#000"/>
<rect x="4" y="796" width="1524" height="1" fill="#000"/>
<rect x="1527" y="4" width="1" height="793" fill="#000"/>
<rect x="1528" y="22" width="2" height="1" fill="#000"/>
<rect x="1528" y="87" width="2" height="1" fill="#000"/>
<rect x="1528" y="152" width="2" height="1" fill="#000"/>
<rect x="1528" y="217" width="2" height="1" fill="#000"/>
<rect x="1528" y="282" width="2" height="1" fill="#000"/>
<rect x="1528" y="347" width="2" height="1" fill="#000"/>
<rect x="1528" y="412" width="2" height="1" fill="#000"/>
<rect x="1528" y="477" width="2" height="1" fill="#000"/>
<rect x="1528" y="542" width="2" height="1" fill="#000"/>
<rect x="1528" y="607" width="2" height="1" fill="#000"/>
<rect x="1528" y="646" width="1" height="1" fill="#000"/>
<rect x="1528" y="690" width="1" height="1" fill="#000"/>
<rect x="1528" y="795" width="1" height="1" fill="#000"/>
<rect x="5" y="797" width="1" height="3" fill="#000"/>
<rect x="133" y="797" width="1" height="3" fill="#000"/>
<rect x="261" y="797" width="1" height="3" fill="#000"/>
<rect x="389" y="797" width="1" height="3" fill="#000"/>
<rect x="517" y="797" width="1" height="3" fill="#000"/>
<rect x="645" y="797" width="1" height="3" fill="#000"/>
<rect x="773" y="797" width="1" height="3" fill="#000"/>
<rect x="901" y="797" width="1" height="3" fill="#000"/>
<rect x="1029" y="797" width="1" height="3" fill="#000"/>
<rect x="1157" y="797" width="1" height="3" fill="#000"/>
<rect x="8" y="12" width="11" height="1" fill="#000"/>
<rect x="9" y="13" width="9" height="1" fill="#000"/>
<rect x="10" y="14" width="7" height="1" fill="#000"/>
<rect x="11" y="15" width="5" height="1" fill="#000"/>
<rect x="12" y="16" width="3" height="1" fill="#000"/>
<rect x="13" y="17" width="1" height="1" fill="#000"/>
</g>
<polyline clip-path="url(#ci)" points="5,666.3 12.5,667.8 25,672 37.5,678.4 50,684 62.5,687.8 75,692 87.5,694 100,696.5 112.5,699.6 125,702.5 137.5,704.6 150,704.9 162.5,704 175,701.8 180,699.6 189.4,694.6 198.7,689 208,682.4 217.5,676.8 226.8,674 236.2,672.7 245.6,672.7 255,674.9 264.3,679.6 273.7,688 283,700.2 292.4,716.1 301.8,730.2 311.2,742.4 320.5,754.5 329.9,765.8 339.3,775.2 348.6,779.8 358,782.3 367.4,782.3 376.7,780.4 386.1,777.4 395.5,773.3 404.8,767.3 414.2,762 423.6,756.4 433,751.7 442.3,746.7 451.7,741.4 461,735.8 470.4,732.6 479.4,731.1 488.7,730.6 498,730.2 507.5,730.6 516.8,731.5 526.2,732.4 535.6,733.4 545,733.4 554.3,732.6 563.7,732.3 573,732 582.4,731.5 591.8,731.1 601.2,730.2 610.5,729.4 619.9,728.7 629.3,728.3 638.6,728.7 648,729.8 657.4,731.7 666.7,733.9 676.1,735.8 685.5,737.7 694.8,739.2 704.2,740.5 713.6,740.5 723,739.9 732.3,739.6 741.7,738.6 751,738.1 760.4,736.5 769.4,733.9 778.7,731.7 788.1,730.2 797.5,725.9 806.8,720.8 816.2,716.1 825.6,711.5 835,709 844.3,706.8 853.7,705.5 863,705.5 872.4,705.5 881.8,704.9 891.2,704.3 900.5,704.5 910,705.5 919.3,706.4 928.6,707.1 938,708.6 947.4,710 956.7,711.5 966.1,713.3 975.5,714.8 984.8,716.1 994.2,718 1003.6,719.9 1013,722.3 1022.3,724.6 1031.7,726.1 1041,728 1052.5,728.4 1065,728 1077.5,726.1 1090,722.5 1102.5,718.4 1108.75,715.9 1115,711.5 1127.5,705.25 1140,697.75 1146.25,692.75 1152.5,687.75 1165,681.25 1177.5,675.9 1190,672.5 1202.5,670.5 1206,670.2" fill="none" stroke="#ff0000" stroke-width="3" stroke-linejoin="round" stroke-linecap="butt"/>
<line x1="1212.5" y1="526.9" x2="1296.6" y2="375.4" stroke="#ff0000" stroke-width="5.6" stroke-linecap="round"/>
<polygon points="1313.5,345.5 1285.4,370.7 1306.6,382.5" fill="#ff0000"/>
<text y="21"><tspan x="26" textLength="78" lengthAdjust="spacingAndGlyphs">XAUUSD-,H4</tspan><tspan x="112.5" textLength="51.5">1837.60</tspan><tspan x="168" textLength="52">1841.39</tspan><tspan x="224" textLength="52">1837.60</tspan><tspan x="280" textLength="52">1839.56</tspan></text>
<text y="662"><tspan x="9" textLength="95" lengthAdjust="spacingAndGlyphs">MACD(12,26,9)</tspan><tspan x="108" textLength="36">3.918</tspan><tspan x="148" textLength="36">3.552</tspan></text>
<text x="1534" y="28" textLength="52.5">1963.10</text>
<text x="1534" y="93" textLength="52.5">1946.10</text>
<text x="1534" y="158" textLength="52.5">1929.10</text>
<text x="1534" y="223" textLength="52.5">1912.10</text>
<text x="1534" y="288" textLength="52.5">1894.85</text>
<text x="1534" y="353" textLength="52.5">1877.85</text>
<text x="1534" y="418" textLength="52.5">1860.85</text>
<text x="1534" y="483" textLength="52.5">1843.85</text>
<text x="1534" y="548" textLength="52.5">1826.60</text>
<text x="1534" y="613" textLength="52.5">1809.60</text>
<g shape-rendering="crispEdges">
<rect x="1529" y="485" width="62" height="17" fill="#000"/>
<rect x="1529" y="523" width="62" height="17" fill="#000"/>
<rect x="1529" y="562" width="62" height="17" fill="#000"/>
</g>
<text x="1534" y="499" textLength="52.5" class="w">1839.56</text>
<text x="1534" y="537" textLength="52.5" class="w">1830.00</text>
<text x="1534" y="576" textLength="52.5" class="w">1820.00</text>
<text x="1531" y="660" textLength="36">7.729</text>
<text x="1531" y="696" textLength="28">0.00</text>
<text x="1531" y="792" textLength="49">-18.141</text>
<text x="4" y="814" textLength="77">27 Jan 2023</text>
<text x="132" y="814" textLength="82">31 Jan 16:00</text>
<text x="260" y="814" textLength="75">3 Feb 08:00</text>
<text x="388" y="814" textLength="75">8 Feb 00:00</text>
<text x="516" y="814" textLength="83">10 Feb 16:00</text>
<text x="644" y="814" textLength="83">15 Feb 08:00</text>
<text x="772" y="814" textLength="83">20 Feb 00:00</text>
<text x="900" y="814" textLength="83">22 Feb 16:00</text>
<text x="1028" y="814" textLength="83">27 Feb 08:00</text>
<text x="1156" y="814" textLength="75">2 Mar 00:00</text>
</svg></body></html>
